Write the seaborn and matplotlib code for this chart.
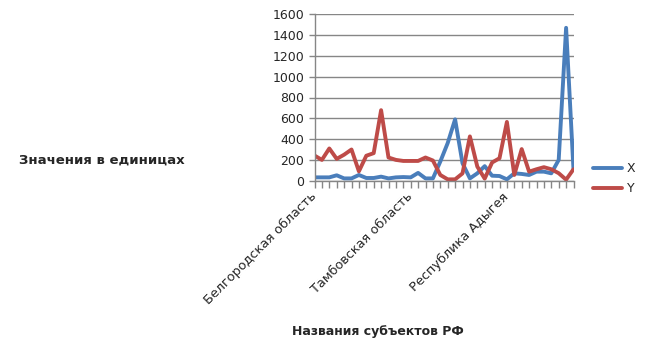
import matplotlib
matplotlib.use("Agg")
import matplotlib.pyplot as plt
import seaborn as sns
import pandas as pd

regions = [
    "Белгородская область", "Брянская область", "Владимирская область", "Воронежская область",
    "Ивановская область", "Калужская область", "Костромская область", "Курская область",
    "Липецкая область", "Московская область", "Орловская область", "Рязанская область",
    "Смоленская область", "Тамбовская область", "Тверская область", "Тульская область",
    "Ярославская область", "г. Москва", "Республика Карелия", "Республика Коми",
    "Архангельская область", "Вологодская область", "Калининградская область", "Ленинградская область",
    "Мурманская область", "Новгородская область", "Республика Адыгея", "Республика Калмыкия",
    "Краснодарский край", "Астраханская область", "Волгоградская область", "Ростовская область",
    "Республика Дагестан", "Республика Ингушетия", "Кабардино-Балкарская Республика",
    "Карачаево-Черкесская Республика",
]
x_values = [32, 32, 32, 52, 22, 22, 55, 26, 26, 39, 22, 32, 35, 32, 75, 22, 22, 184,
            362, 590, 168, 22, 71, 140, 48, 45, 13, 71, 65, 55, 87, 87, 71, 200, 1470, 105]
y_values = [242, 200, 310, 210, 250, 300, 90, 240, 265, 678, 223, 200, 190, 190, 190, 223, 194, 55,
            13, 13, 70, 426, 136, 20, 175, 216, 565, 55, 304, 87, 110, 130, 110, 72, 10, 110]
label_every = 13
series_names = ["X", "Y"]
colors = ["#4A7EBB", "#BE4B48"]

n = len(regions)
df = pd.DataFrame({
    "idx": list(range(n)) * 2,
    "value": x_values + y_values,
    "series": [series_names[0]] * n + [series_names[1]] * n,
})

sns.set_style("white")
plt.rcParams["font.family"] = ["DejaVu Sans"]

fig = plt.figure(figsize=(6.46, 3.58), dpi=100)
ax = fig.add_axes([314.5 / 646, 1 - 180.7 / 358, (573.5 - 314.5) / 646, (180.7 - 14.3) / 358])

sns.lineplot(data=df, x="idx", y="value", hue="series", palette=colors,
             linewidth=2.8, ax=ax, legend=True)

ax.set_xlim(0, n - 1)
ax.set_ylim(0, 1600)
ax.set_yticks(range(0, 1601, 200))
ax.yaxis.grid(True, color="#868686", linewidth=1)
ax.xaxis.grid(False)
ax.set_axisbelow(True)
ax.set_xticks(range(n))
ax.set_xticklabels([r if i % label_every == 0 else "" for i, r in enumerate(regions)],
                   rotation=45, ha="right", va="center", rotation_mode="anchor", fontsize=9.3)
ax.tick_params(axis="x", length=5, color="#868686", width=1, direction="out", pad=5, bottom=True)
ax.tick_params(axis="y", length=4, color="#868686", width=1, direction="out", labelsize=9, left=True)
for side in ["top", "right"]:
    ax.spines[side].set_visible(False)
for side in ["left", "bottom"]:
    ax.spines[side].set_color("#868686")
    ax.spines[side].set_linewidth(1)

ax.set_xlabel("")
ax.set_ylabel("")
fig.text(101.5 / 646, 1 - 160 / 358, "Значения в единицах", ha="center", va="center",
         fontsize=9.5, fontweight="bold")
fig.text(378 / 646, 1 - 331 / 358, "Названия субъектов РФ", ha="center", va="center",
         fontsize=9, fontweight="bold")

handles, labels = ax.get_legend_handles_labels()
ax.legend(handles, labels, loc="center left", bbox_to_anchor=(582 / 646, 1 - 178.5 / 358),
          bbox_transform=fig.transFigure, frameon=False, fontsize=9, handlelength=2.3,
          handletextpad=0.4, labelspacing=0.55)

fig.savefig("out.png", dpi=100)
